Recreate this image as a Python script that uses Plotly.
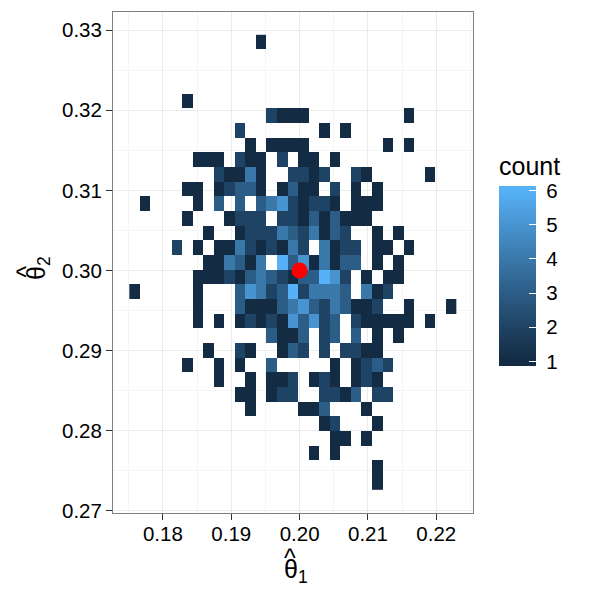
import plotly.graph_objects as go

# ---- data ----
x_bin_centers = [0.17586, 0.17740, 0.17895, 0.18049, 0.18204, 0.18358, 0.18513, 0.18667,
                 0.18822, 0.18976, 0.19131, 0.19285, 0.19439, 0.19594, 0.19748, 0.19903,
                 0.20057, 0.20212, 0.20366, 0.20521, 0.20675, 0.20829, 0.20984, 0.21138,
                 0.21293, 0.21447, 0.21602, 0.21756, 0.21911, 0.22065, 0.22220]
# top row first
y_bin_centers = [0.32849, 0.32666, 0.32482, 0.32299, 0.32116, 0.31933, 0.31749, 0.31566,
                 0.31383, 0.31199, 0.31016, 0.30833, 0.30649, 0.30466, 0.30283, 0.30100,
                 0.29916, 0.29733, 0.29550, 0.29366, 0.29183, 0.29000, 0.28816, 0.28633,
                 0.28450, 0.28267, 0.28083, 0.27900, 0.27717, 0.27533, 0.27350]
# counts per bin, one string per row (top row first), 31 columns left->right
count_rows = [
    "0000000000" "0010000000" "0000000000" "0",
    "0000000000" "0000000000" "0000000000" "0",
    "0000000000" "0000000000" "0000000000" "0",
    "0000000000" "0000000000" "0000000000" "0",
    "0000010000" "0000000000" "0000000000" "0",
    "0000000000" "0002111000" "0000001000" "0",
    "0000000000" "2000000010" "1000000000" "0",
    "0000000000" "0101111000" "0000101000" "0",
    "0000001110" "2110201101" "0000000000" "0",
    "0000000021" "1410022120" "0210000010" "0",
    "0000011012" "3310131102" "0101000000" "0",
    "0100001030" "3034521221" "0111000000" "0",
    "0000010001" "2220221313" "1110000000" "0",
    "0000000100" "1222432413" "2001010000" "0",
    "0000201011" "4212142041" "2201101000" "0",
    "0000000114" "3140635141" "3301010000" "0",
    "0000001112" "1343213365" "2010110000" "0",
    "1000001000" "3542362444" "3041200000" "0",
    "0000001000" "3111345324" "3112001000" "1",
    "0000001010" "1212153523" "0211111010" "0",
    "0000000000" "0003113023" "0301010000" "0",
    "0000000100" "2100132020" "2211000000" "0",
    "0000010010" "1003000001" "0123200000" "0",
    "0000000010" "0101120121" "0121000000" "0",
    "0000000000" "1101220022" "1302200000" "0",
    "0000000000" "0100001130" "0010000000" "0",
    "0000000000" "0000000012" "0001000000" "0",
    "0000000000" "0000000001" "1010000000" "0",
    "0000000000" "0000000101" "0000000000" "0",
    "0000000000" "0000000000" "0001000000" "0",
    "0000000000" "0000000000" "0001000000" "0",
]
true_x = [0.20]
true_y = [0.30]
x_ticks = [0.18, 0.19, 0.20, 0.21, 0.22]
y_ticks = [0.27, 0.28, 0.29, 0.30, 0.31, 0.32, 0.33]
legend_ticks = [1, 2, 3, 4, 5, 6]
count_min, count_max = 1, 6

z = [[int(ch) if ch != "0" else None for ch in row] for row in count_rows]

# ---- ggplot-like Lab gradient (#132B43 -> #56B1F7) ----
def hex2rgb(h):
    h = h.lstrip("#")
    return [int(h[i:i + 2], 16) / 255 for i in (0, 2, 4)]

def lin(c):
    return c / 12.92 if c <= 0.04045 else ((c + 0.055) / 1.055) ** 2.4

def delin(c):
    c = max(0.0, min(1.0, c))
    return 12.92 * c if c <= 0.0031308 else 1.055 * c ** (1 / 2.4) - 0.055

WX, WY, WZ = 0.95047, 1.0, 1.08883

def rgb2lab(rgb):
    r, g, b = [lin(c) for c in rgb]
    X = 0.4124 * r + 0.3576 * g + 0.1805 * b
    Y = 0.2126 * r + 0.7152 * g + 0.0722 * b
    Z = 0.0193 * r + 0.1192 * g + 0.9505 * b
    def f(t):
        return t ** (1 / 3) if t > 0.008856 else 7.787 * t + 16 / 116
    fx, fy, fz = f(X / WX), f(Y / WY), f(Z / WZ)
    return [116 * fy - 16, 500 * (fx - fy), 200 * (fy - fz)]

def lab2rgb(lab):
    L_, a, bb = lab
    fy = (L_ + 16) / 116
    fx = fy + a / 500
    fz = fy - bb / 200
    def finv(t):
        return t ** 3 if t ** 3 > 0.008856 else (t - 16 / 116) / 7.787
    X, Y, Z = WX * finv(fx), WY * finv(fy), WZ * finv(fz)
    r = 3.2406 * X - 1.5372 * Y - 0.4986 * Z
    g = -0.9689 * X + 1.8758 * Y + 0.0415 * Z
    b = 0.0557 * X - 0.2040 * Y + 1.0570 * Z
    return "rgb(%d,%d,%d)" % tuple(round(delin(c) * 255) for c in (r, g, b))

lab_lo, lab_hi = rgb2lab(hex2rgb("#132B43")), rgb2lab(hex2rgb("#56B1F7"))
nb = 20
pad = 0.5 * (count_max - count_min) / (nb - 1)
zmin, zmax = count_min - pad, count_max + pad
span = zmax - zmin
colorscale = [[0.0, lab2rgb(lab_lo)]]
for i in range(11):
    t = i / 10
    v = count_min + t * (count_max - count_min)
    lab = [lab_lo[k] + t * (lab_hi[k] - lab_lo[k]) for k in range(3)]
    colorscale.append([(v - zmin) / span, lab2rgb(lab)])
colorscale.append([1.0, lab2rgb(lab_hi)])

# ---- layout geometry ----
L, R, T, B = 113, 127, 12, 87
pw, ph = 600 - L - R, 600 - T - B
FONT = "Liberation Sans, Arial, Helvetica, sans-serif"
TICK_SIZE = 20.5
TITLE_SIZE = 25

def px_x(px):
    return (px - L) / pw

def px_y(py):
    return (600 - B - py) / ph

NBSP = "\u00a0"

fig = go.Figure()
fig.add_trace(go.Heatmap(
    x=x_bin_centers, y=y_bin_centers, z=z,
    zmin=zmin, zmax=zmax, colorscale=colorscale,
    hoverongaps=False,
    colorbar=dict(
        title=dict(text="count", side="top", font=dict(size=TITLE_SIZE, color="black", family=FONT)),
        tickmode="array", tickvals=legend_ticks, ticktext=[NBSP + str(v) for v in legend_ticks],
        ticks="inside", ticklen=7, tickcolor="white", tickwidth=1,
        tickfont=dict(size=TICK_SIZE, color="black", family=FONT),
        thickness=37, thicknessmode="pixels",
        len=213, lenmode="pixels",
        x=px_x(499), xanchor="left", xpad=0,
        y=px_y(259.5), yanchor="middle", ypad=0,
        outlinewidth=0,
    ),
))
fig.add_trace(go.Scatter(
    x=true_x, y=true_y, mode="markers",
    marker=dict(size=16, color="#FF0000", line=dict(width=0)),
    showlegend=False,
))

axis_common = dict(
    showline=True, mirror=True, linecolor="#7F7F7F", linewidth=1,
    ticks="outside", ticklen=6, tickcolor="#333333", tickwidth=1,
    tickfont=dict(size=TICK_SIZE, color="black", family=FONT),
    showgrid=True, gridcolor="#EBEBEB", gridwidth=1,
    zeroline=False, tickformat=".2f",
)
fig.update_xaxes(
    range=[0.17270, 0.22537], tickmode="array", tickvals=x_ticks,
    minor=dict(tickmode="array", tickvals=[0.175, 0.185, 0.195, 0.205, 0.215, 0.225],
               showgrid=True, gridcolor="#F5F5F5", gridwidth=1, ticks=""),
    ticklabelstandoff=-4,
    **axis_common,
)
fig.update_yaxes(
    range=[0.26974, 0.33225], tickmode="array", tickvals=y_ticks,
    minor=dict(tickmode="array", tickvals=[0.275, 0.285, 0.295, 0.305, 0.315, 0.325],
               showgrid=True, gridcolor="#F5F5F5", gridwidth=1, ticks=""),
    **axis_common,
)

title_font = dict(size=TITLE_SIZE, color="black", family=FONT)
annotations = [
    # x-axis title: theta-hat with subscript 1
    dict(text="θ<sub>1</sub>", xref="paper", yref="paper", x=px_x(282), y=px_y(571),
         xanchor="left", yanchor="middle", showarrow=False, font=title_font),
    dict(text="^", xref="paper", yref="paper", x=px_x(289.5), y=px_y(558),
         xanchor="center", yanchor="middle", showarrow=False, font=title_font),
    # y-axis title: theta-hat with subscript 2 (rotated)
    dict(text="θ<sub>2</sub>", xref="paper", yref="paper", x=px_x(38), y=px_y(282),
         xanchor="center", yanchor="bottom", textangle=-90, showarrow=False, font=title_font),
    dict(text="^", xref="paper", yref="paper", x=px_x(25.5), y=px_y(272),
         xanchor="center", yanchor="middle", textangle=-90, showarrow=False, font=title_font),
]

fig.update_layout(
    width=600, height=600,
    margin=dict(l=L, r=R, t=T, b=B),
    paper_bgcolor="white", plot_bgcolor="white",
    font=dict(family=FONT, color="black"),
    showlegend=False,
    annotations=annotations,
)
fig.write_html("out.html")
